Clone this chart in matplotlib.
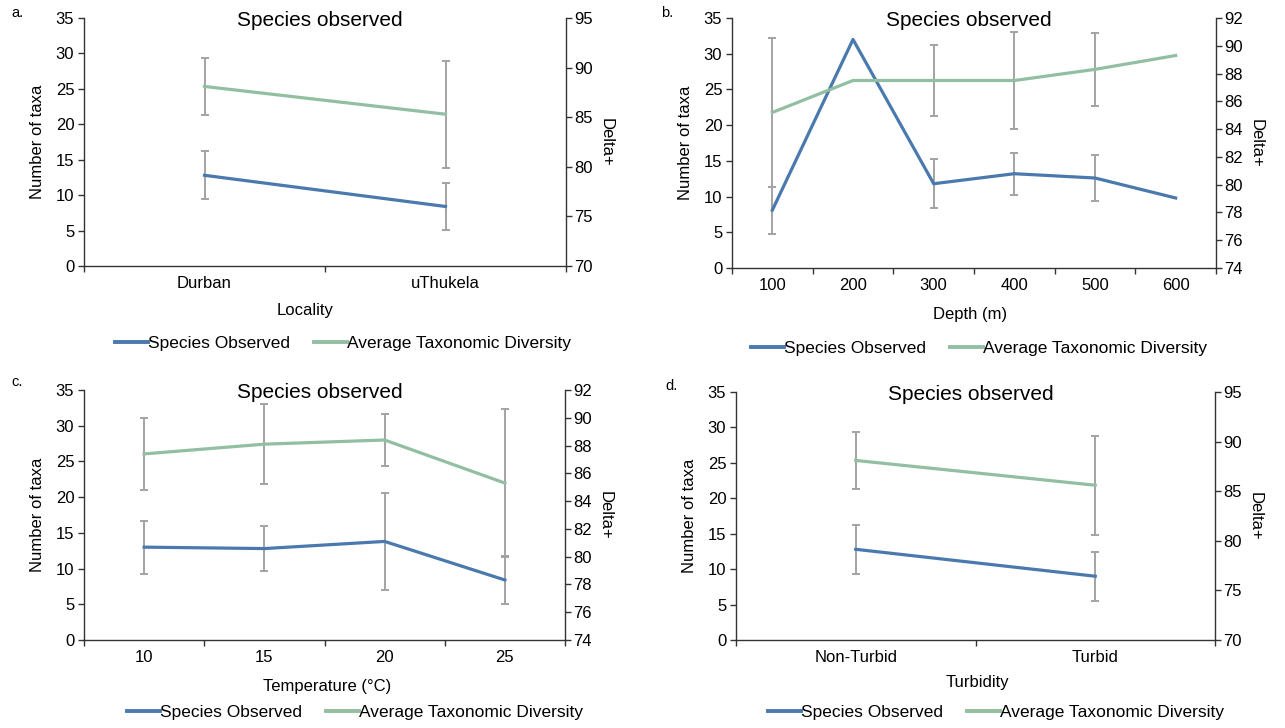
import numpy as np
import matplotlib
matplotlib.use("Agg")
import matplotlib.pyplot as plt
from matplotlib.lines import Line2D

plt.rcParams['font.family'] = ['Liberation Sans', 'DejaVu Sans']

# ---- data ----
# a. Locality
loc_cats = ["Durban", "uThukela"]
loc_species = [12.8, 8.4]
loc_species_err = [3.4, 3.3]
loc_delta = [88.1, 85.3]
loc_delta_err = [2.9, 5.4]

# b. Depth
depth_cats = ["100", "200", "300", "400", "500", "600"]
depth_species = [8.1, 32.0, 11.8, 13.2, 12.6, 9.8]
depth_species_err = [3.3, None, 3.45, 2.95, 3.25, None]
depth_delta = [85.2, 87.5, 87.5, 87.5, 88.3, 89.3]
depth_delta_err = [5.35, None, 2.55, 3.5, 2.65, None]

# c. Temperature
temp_cats = ["10", "15", "20", "25"]
temp_species = [13.0, 12.8, 13.8, 8.4]
temp_species_err = [3.7, 3.2, 6.75, 3.3]
temp_delta = [87.4, 88.1, 88.4, 85.3]
temp_delta_err = [2.6, 2.9, 1.85, 5.35]

# d. Turbidity
turb_cats = ["Non-Turbid", "Turbid"]
turb_species = [12.8, 9.0]
turb_species_err = [3.45, 3.45]
turb_delta = [88.1, 85.6]
turb_delta_err = [2.86, 5.0]

BLUE = "#4a79ad"
GREEN = "#92bfa2"
GREY = "#a3a3a3"
AXC = "#333333"

W, H = 1285.0, 728.0


def err_bars(ax, x, y, err):
    e = np.array([np.nan if v is None else v for v in err], dtype=float)
    m = ~np.isnan(e)
    ax.errorbar(x[m], np.asarray(y)[m], yerr=e[m], fmt='none', ecolor=GREY,
                elinewidth=1.4, capsize=3.2, capthick=1.4, zorder=2)


def panel(box, letter, cats, species, sp_err, delta, d_err, rlim, rstep,
          xlabel, xlab_pos, leg_pos):
    l, r, t, b = box
    ax = fig.add_axes([l / W, 1 - b / H, (r - l) / W, (b - t) / H])
    ax2 = ax.twinx()
    n = len(cats)
    x = np.arange(n) + 0.5

    err_bars(ax, x, species, sp_err)
    ax.plot(x, species, color=BLUE, lw=2.3, zorder=3)
    err_bars(ax2, x, delta, d_err)
    ax2.plot(x, delta, color=GREEN, lw=2.3, zorder=3)

    ax.set_xlim(0, n)
    ax.set_ylim(0, 35)
    ax.set_yticks(np.arange(0, 36, 5))
    ax2.set_ylim(*rlim)
    ax2.set_yticks(np.arange(rlim[0], rlim[1] + 0.1, rstep))

    # category labels sit between boundary tick marks
    ax.set_xticks(np.arange(n + 1))
    ax.set_xticklabels([])
    ax.set_xticks(x, minor=True)
    ax.set_xticklabels(cats, minor=True)
    ax.tick_params(axis='x', which='minor', length=0, pad=7, labelsize=12)
    ax.tick_params(axis='x', which='major', length=4, width=1, color=AXC)
    ax.tick_params(axis='y', length=4, width=1, labelsize=12, color=AXC, pad=3)
    ax2.tick_params(axis='y', length=4, width=1, labelsize=12, color=AXC, pad=2)

    for a in (ax, ax2):
        a.spines['top'].set_visible(False)
        for s in ('left', 'right', 'bottom'):
            a.spines[s].set_color(AXC)
            a.spines[s].set_linewidth(1)
    ax2.spines['left'].set_visible(False)
    ax2.spines['bottom'].set_visible(False)
    ax.spines['right'].set_visible(False)

    ymid = 1 - (t + b) / 2 / H
    fig.text((l - 47) / W, ymid, "Number of taxa", fontsize=12, rotation=90,
             ha='center', va='center')
    fig.text((r + 40) / W, ymid, "Delta+", fontsize=12, rotation=270,
             ha='center', va='center')
    fig.text(xlab_pos[0] / W, 1 - xlab_pos[1] / H, xlabel, fontsize=12,
             ha='center', va='center')

    fig.text((l + r) / 2 / W - 0.004, 1 - (t + 2) / H, "Species observed",
             fontsize=15, ha='center', va='center')
    fig.text(letter[1] / W, 1 - letter[2] / H, letter[0], fontsize=10.5,
             ha='center', va='center')

    handles = [Line2D([], [], color=BLUE, lw=2.8), Line2D([], [], color=GREEN, lw=2.8)]
    fig.legend(handles, ["Species Observed", "Average Taxonomic Diversity"],
               loc='center', bbox_to_anchor=(leg_pos[0] / W, 1 - leg_pos[1] / H),
               ncol=2, frameon=False, fontsize=12.5, handlelength=1.9,
               handletextpad=0.0, columnspacing=1.4, borderpad=0)
    return ax


fig = plt.figure(figsize=(12.85, 7.28), dpi=100)

panel((84, 566, 18, 266), ("a.", 17, 13), loc_cats, loc_species, loc_species_err,
      loc_delta, loc_delta_err, (70, 95), 5, "Locality", (305, 310), (343, 343))
panel((732, 1216, 18, 268), ("b.", 667, 13), depth_cats, depth_species,
      depth_species_err, depth_delta, depth_delta_err, (74, 92), 2,
      "Depth (m)", (970, 315), (979, 348))
panel((84, 565, 390, 640), ("c.", 17, 382), temp_cats, temp_species,
      temp_species_err, temp_delta, temp_delta_err, (74, 92), 2,
      "Temperature (°C)", (327, 686), (355, 712))
panel((736, 1215, 392, 640), ("d.", 671, 386), turb_cats, turb_species,
      turb_species_err, turb_delta, turb_delta_err, (70, 95), 5,
      "Turbidity", (977, 682), (996, 712))

fig.savefig("out.png", dpi=100)
